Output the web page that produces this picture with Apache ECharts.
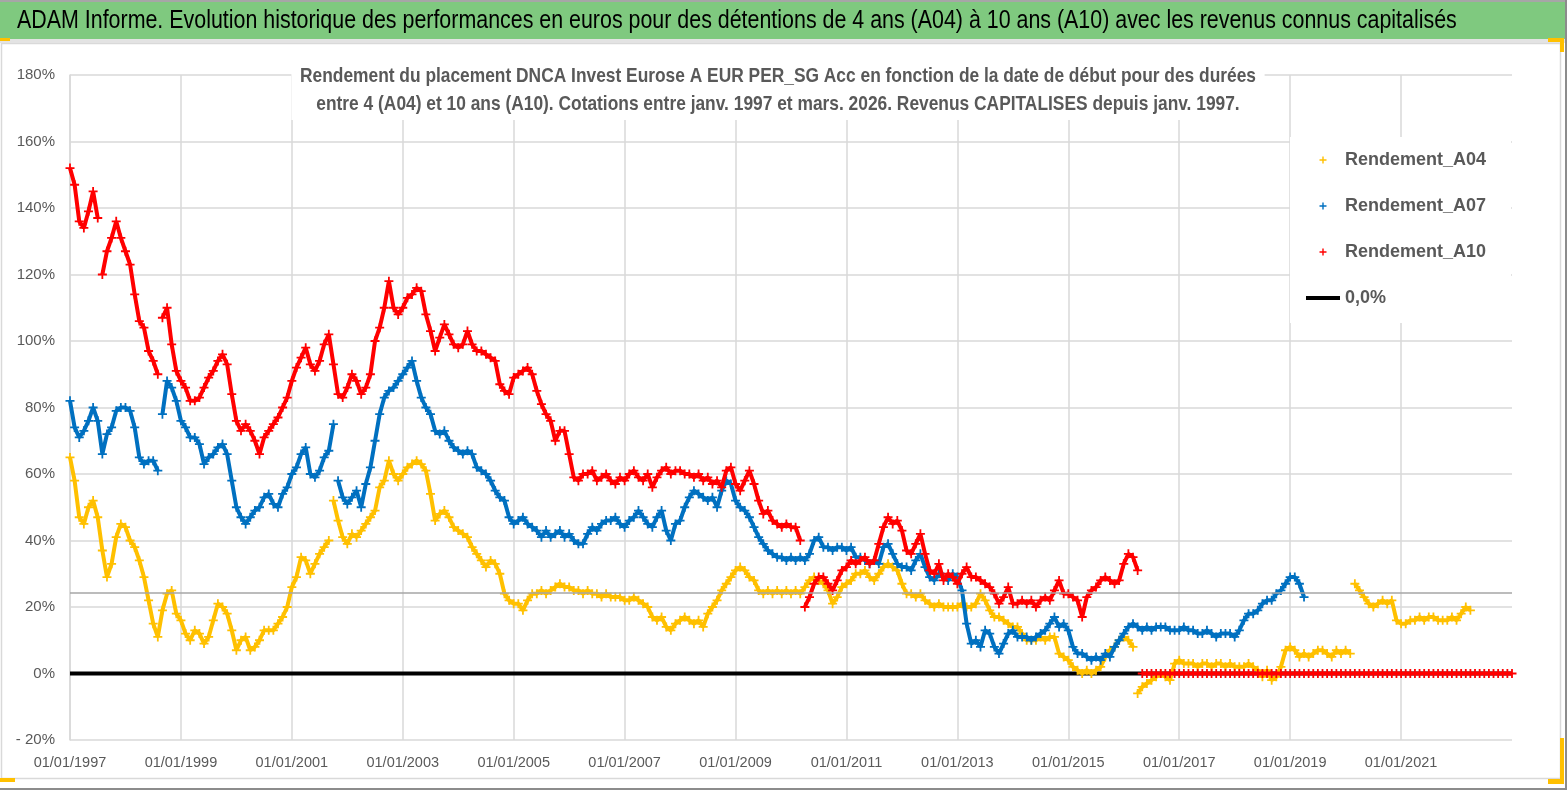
<!DOCTYPE html>
<html><head><meta charset="utf-8">
<script src="https://cdn.jsdelivr.net/npm/echarts@6/dist/echarts.min.js"></script>
<style>html,body{margin:0;padding:0;background:#fff}#c{width:1567px;height:790px}</style>
</head><body><div id="c"></div><script>
// ---------------- DATA (monthly readings, first value = January 1997) ----------------
const startYear = 1997;
const xTickYears = [1997, 1999, 2001, 2003, 2005, 2007, 2009, 2011, 2013, 2015, 2017, 2019, 2021];
const yTicks = [-20, 0, 20, 40, 60, 80, 100, 120, 140, 160, 180];
const refLevel = 24.4;           // grey horizontal reference line (%)
const zeroLine = [[1997, 0], [2023, 0]];

const a04 = [
  65,58,47,45,50,52,47,37,29,33,41,45,
  44,40,38,34,29,22,15,11,19,24,25,18,
  16,12,10,13,12,9,11,16,21,20,18,13,
  7,10,11,7,8,10,13,13,13,15,17,20,
  26,29,35,34,30,33,36,38,40,52,46,41,
  39,42,41,43,45,47,49,56,58,64,60,58,
  60,62,63,64,63,61,54,46,48,49,47,44,
  43,42,41,38,36,34,32,34,33,30,24,22,
  21,21,19,22,24,24,25,24,25,26,27,26,
  26,25,25,24,25,24,24,23,24,23,23,23,
  22,22,23,22,21,20,17,16,17,14,13,15,
  16,17,16,15,16,14,18,20,22,25,27,29,
  31,32,31,29,28,25,24,25,24,25,24,25,
  24,25,24,26,28,29,28,27,25,21,23,26,
  27,28,30,30,31,29,28,30,32,33,32,31,
  27,24,24,23,24,22,21,20,21,20,20,20,
  20,21,20,20,21,24,22,19,17,17,16,15,
  14,14,12,10,10,10,11,10,11,11,6,5,
  4,2,1,0,1,0,1,2,5,7,8,10,
  11,10,8,-6,-4,-3,-2,-1,0,-1,-2,3,
  4,3,3,3,2,3,3,2,3,3,2,3,
  2,2,2,3,2,1,-1,1,-2,-1,2,7,
  8,7,5,6,5,6,7,7,6,5,7,6,
  7,6,27,25,23,21,20,21,22,21,22,16,
  15,15,16,16,17,16,17,17,16,16,16,17,
  16,18,20,19
];

const a07 = [
  82,74,71,73,76,80,76,66,72,74,79,80,
  80,79,74,65,63,64,64,61,78,88,86,82,
  76,74,71,71,69,63,65,66,68,69,66,58,
  50,47,45,47,49,50,53,54,51,50,54,56,
  60,62,66,68,60,59,61,65,67,75,58,53,
  51,53,55,50,57,62,70,78,83,85,86,88,
  90,92,94,88,83,80,78,73,72,73,70,68,
  67,66,67,66,62,61,60,58,55,53,52,47,
  45,46,47,45,44,43,41,43,41,42,43,41,
  42,40,39,39,42,44,43,45,46,46,47,45,
  44,46,47,49,47,45,44,47,49,43,40,45,
  46,50,53,55,54,53,52,53,50,55,58,57,
  52,50,49,47,44,41,39,37,36,35,35,34,
  35,34,35,34,36,40,41,38,38,37,38,38,
  37,38,35,35,34,33,34,33,38,39,36,33,
  32,32,31,34,36,32,29,28,30,29,28,30,
  29,25,15,9,10,8,13,12,8,6,9,12,
  13,11,11,11,10,11,12,13,15,17,14,15,
  13,8,6,6,5,4,5,4,6,5,8,10,
  12,14,15,14,13,14,13,14,14,14,13,13,
  13,14,13,13,12,12,13,12,11,12,12,12,
  11,13,16,18,18,19,21,22,22,24,25,27,
  29,29,27,23
];

const a10 = [
  152,147,136,134,139,145,137,120,127,131,136,131,
  127,123,114,106,104,97,94,90,107,110,99,91,
  88,86,82,82,83,86,89,91,94,96,93,84,
  76,73,75,73,70,66,71,73,75,77,80,83,
  88,92,95,98,93,91,94,99,102,93,84,83,
  86,90,88,84,86,90,100,104,110,118,110,108,
  110,113,114,116,115,108,103,97,101,105,102,99,
  98,99,103,99,97,97,96,95,94,87,85,84,
  89,90,91,92,90,85,81,78,76,70,73,73,
  66,59,58,60,60,61,58,59,60,58,57,59,
  58,60,61,59,58,60,56,59,61,62,60,61,
  61,60,60,59,60,58,59,57,58,56,61,62,
  57,55,58,61,57,52,48,49,46,45,44,45,
  44,44,40,20,23,27,29,29,27,25,28,31,
  32,34,33,34,35,33,34,39,44,47,45,46,
  43,37,36,39,42,36,31,30,33,28,30,29,
  27,30,32,29,29,28,27,26,24,21,23,26,
  21,21,22,21,22,20,22,23,22,25,28,24,
  24,23,22,17,23,25,26,28,29,28,27,28,
  33,36,35,31,0,0,0,0,0,0,0,0,
  0,0,0,0,0,0,0,0,0,0,0,0,
  0,0,0,0,0,0,0,0,0,0,0,0,
  0,0,0,0,0,0,0,0,0,0,0,0,
  0,0,0,0,0,0,0,0,0,0,0,0,
  0,0,0,0,0,0,0,0,0,0,0,0,
  0,0,0,0,0,0,0,0,0,0,0,0,
  0
];

const seriesNames = ['Rendement_A04', 'Rendement_A07', 'Rendement_A10', '0,0%'];
const mainTitle = 'ADAM Informe. Evolution historique des performances en euros pour des détentions de 4 ans (A04) à 10 ans (A10) avec les revenus connus capitalisés';
const subLines = [
  'Rendement du placement DNCA Invest Eurose A EUR PER_SG Acc en fonction de la date de début pour des durées',
  'entre 4 (A04) et 10 ans (A10). Cotations entre janv. 1997 et mars. 2026. Revenus CAPITALISES depuis janv. 1997.'
];

// ---------------- STYLE ----------------
const FAM = "'Liberation Sans Narrow', 'Liberation Sans', Arial, sans-serif";
const SQUEEZE = 0.86;   // horizontal squeeze to imitate a condensed (Calibri-like) face
function fit(text, weight, target, squeeze) {
  const ctx = document.createElement('canvas').getContext('2d');
  ctx.font = weight + ' 100px ' + FAM;
  return Math.round(1000 * target / (ctx.measureText(text).width * squeeze)) / 10;
}
const titleSize = fit(mainTitle, 'normal', 1441, SQUEEZE);
const subSize = fit(subLines[0], 'bold', 956, SQUEEZE);

const PLUS = 'path://M4,0H6V4H10V6H6V10H4V6H0V4H4Z';
const COLORS = ['#FFC000', '#0070C0', '#FF0000'];
const GRID = '#D9D9D9';
// points at month offsets; a missing value is put between two readings that are far apart
// so the band is not joined across a jump
function toXY(arr) {
  const out = [];
  arr.forEach((v, i) => {
    const x = startYear + i / 12;
    if (i > 0 && Math.abs(v - arr[i - 1]) >= 12) out.push([x - 1 / 24, null]);
    out.push([x, v]);
  });
  return out;
}
function band(name, arr, color, z) {
  return {
    name, type: 'line', data: toXY(arr), connectNulls: false,
    symbol: PLUS, symbolSize: 9, showSymbol: true, showAllSymbol: true,
    itemStyle: {color}, lineStyle: {color, width: 4}, z
  };
}

const chart = echarts.init(document.getElementById('c'), null, {renderer: 'canvas'});
const seriesList = [
  {name: seriesNames[3], type: 'line', data: zeroLine, symbol: 'none', silent: true,
    itemStyle: {color: '#000'}, lineStyle: {color: '#000', width: 4}, z: 1},
  band(seriesNames[0], a04, COLORS[0], 2),
  band(seriesNames[1], a07, COLORS[1], 3),
  band(seriesNames[2], a10, COLORS[2], 4)
];
seriesList[1].markLine = {silent: true, symbol: 'none', label: {show: false},
  lineStyle: {color: '#A6A6A6', width: 1.5, type: 'solid'}, data: [{yAxis: refLevel}]};

chart.setOption({
  animation: false,
  backgroundColor: '#fff',
  grid: {left: 70, right: 55, top: 75, bottom: 50},
  xAxis: {
    type: 'value', min: xTickYears[0], max: 2023, interval: 2,
    axisLine: {show: true, lineStyle: {color: GRID, width: 1.5}},
    axisTick: {show: false},
    splitLine: {show: true, showMaxLine: false, lineStyle: {color: GRID, width: 1.5}},
    axisLabel: {showMaxLabel: false, formatter: v => '01/01/' + v, color: '#595959',
      fontSize: 14.5, fontFamily: FAM, margin: 15}
  },
  yAxis: {
    type: 'value', min: yTicks[0], max: yTicks[yTicks.length - 1], interval: 20,
    axisLine: {show: true, lineStyle: {color: GRID, width: 1.5}},
    axisTick: {show: false},
    splitLine: {show: true, lineStyle: {color: GRID, width: 1.5}},
    axisLabel: {formatter: v => (v < 0 ? '- ' + (-v) + '%' : v + '%'), color: '#595959',
      fontSize: 15, fontFamily: FAM, margin: 15}
  },
  legend: {
    orient: 'vertical', left: 1290, top: 137,
    padding: [12, 25, 14, 16],
    backgroundColor: '#fff',
    itemWidth: 34, itemHeight: 7, itemGap: 24,
    textStyle: {fontSize: 18, fontWeight: 'bold', color: '#595959', fontFamily: FAM, lineHeight: 22},
    data: [
      {name: seriesNames[0], icon: PLUS},
      {name: seriesNames[1], icon: PLUS},
      {name: seriesNames[2], icon: PLUS},
      {name: seriesNames[3], icon: 'path://M0,0H34V4H0Z'}
    ]
  },
  series: seriesList,
  graphic: [
    {type: 'rect', z: 100, shape: {x: 0, y: 0, width: 1567, height: 2}, style: {fill: '#A6A6A6'}},
    {type: 'rect', z: 100, shape: {x: 0, y: 2, width: 1567, height: 37}, style: {fill: '#7FC97F'}},
    {type: 'rect', z: 100, shape: {x: 0, y: 39, width: 1567, height: 4}, style: {fill: '#E3E3E3'}},
    {type: 'text', z: 101, x: 17, y: 21, scaleX: SQUEEZE,
      style: {text: mainTitle, x: 0, y: 0, verticalAlign: 'middle', align: 'left',
      fill: '#000', font: 'normal ' + titleSize + 'px ' + FAM}},
    {type: 'text', z: 101, x: 778, y: 90, scaleX: SQUEEZE,
      style: {text: subLines.join('\n'), x: 0, y: 0, align: 'center', verticalAlign: 'middle',
      fill: '#595959', font: 'bold ' + subSize + 'px ' + FAM, lineHeight: 28,
      backgroundColor: '#fff', padding: [2, 10]}},
    {type: 'rect', z: 99, shape: {x: 1.5, y: 43.5, width: 1559, height: 735}, style: {fill: null, stroke: '#D9D9D9', lineWidth: 1.5}},
    {type: 'rect', z: 100, shape: {x: 0, y: 788, width: 1567, height: 2}, style: {fill: '#8C8C8C'}},
    {type: 'rect', z: 100, shape: {x: 1565, y: 0, width: 2, height: 790}, style: {fill: '#8C8C8C'}},
    {type: 'rect', z: 102, shape: {x: 0, y: 38, width: 10, height: 3}, style: {fill: '#FFC000'}},
    {type: 'rect', z: 102, shape: {x: 0, y: 778, width: 15, height: 4}, style: {fill: '#FFC000'}},
    {type: 'rect', z: 102, shape: {x: 1548, y: 38, width: 16, height: 4}, style: {fill: '#FFC000'}},
    {type: 'rect', z: 102, shape: {x: 1560, y: 38, width: 4, height: 14}, style: {fill: '#FFC000'}},
    {type: 'rect', z: 102, shape: {x: 1560, y: 738, width: 4, height: 46}, style: {fill: '#FFC000'}},
    {type: 'rect', z: 102, shape: {x: 1548, y: 779, width: 16, height: 5}, style: {fill: '#FFC000'}}
  ]
});
</script></body></html>
